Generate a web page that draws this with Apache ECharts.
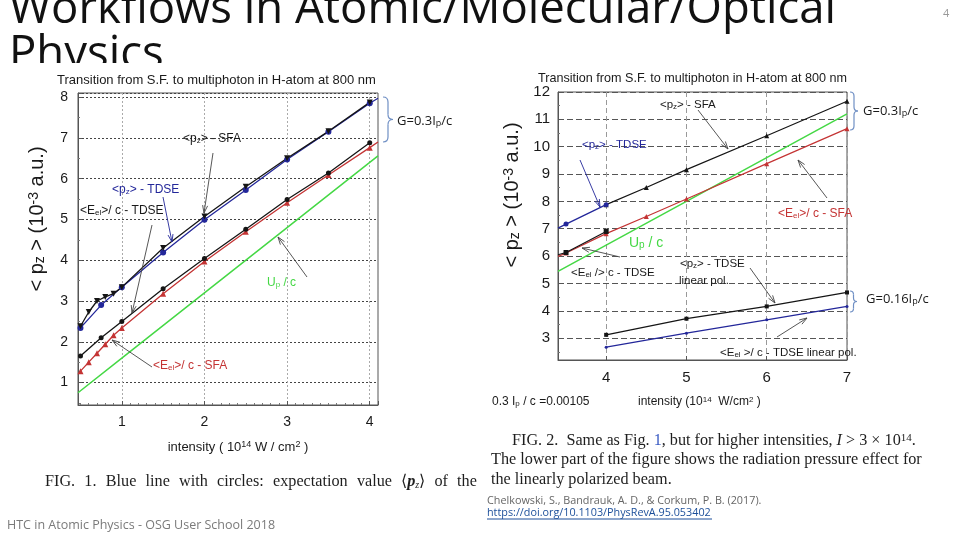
<!DOCTYPE html>
<html><head><meta charset="utf-8">
<script src="https://cdn.jsdelivr.net/npm/echarts@6/dist/echarts.min.js"></script>
<style>html,body{margin:0;padding:0;background:#fff}#c{width:960px;height:540px}</style>
</head><body><div id="c"></div>
<script>
// ---------- data ----------
// Left chart (Fig. 1): intensity in 1e14 W/cm^2, <pz> in 1e-3 a.u.
const L_pzSFA   = [[0.5,2.38],[0.6,2.73],[0.7,3.0],[0.8,3.1],[0.9,3.18],[1,3.34],[1.5,4.3],[2,5.07],[2.5,5.8],[3,6.5],[3.5,7.16],[4,7.87]];
const L_pzTDSE  = [[0.5,2.34],[0.75,2.9],[1,3.34],[1.5,4.19],[2,4.99],[2.5,5.72],[3,6.47],[3.5,7.15],[4,7.85],[4.1,7.97]];
const L_eelTDSE = [[0.5,1.65],[0.75,2.1],[1,2.5],[1.5,3.3],[2,4.04],[2.5,4.76],[3,5.49],[3.5,6.14],[4,6.88]];
const L_eelSFA  = [[0.5,1.28],[0.6,1.5],[0.7,1.72],[0.8,1.94],[0.9,2.16],[1,2.34],[1.5,3.18],[2,3.97],[2.5,4.7],[3,5.41],[3.5,6.09],[4,6.76],[4.1,6.9]];
const L_upc     = [[0.47,0.75],[1,1.6],[2,3.2],[3,4.8],[4,6.4],[4.1,6.56]];
// Right chart (Fig. 2)
const R_pzTDSE  = [[3.4,7.02],[3.5,7.17],[4,7.88]];
const R_pzSFA   = [[4,7.88],[4.5,8.51],[5,9.16],[6,10.4],[7,11.66]];
const R_eelTDSE = [[3.4,6.05],[3.5,6.13],[4,6.9]];
const R_eelSFA  = [[3.4,5.99],[3.5,6.11],[4,6.82],[4.5,7.45],[5,8.09],[6,9.38],[7,10.66]];
const R_upc     = [[3.4,5.44],[4,6.4],[5,8.0],[6,9.6],[7,11.2]];
const R_pzLin   = [[4,3.12],[5,3.71],[6,4.16],[7,4.67]];
const R_eelLin  = [[4,2.67],[5,3.18],[6,3.67],[7,4.16]];
// axis extents
const L_xRange = [0.47, 4.1], L_yRange = [0.45, 8.1];
const R_xRange = [3.4, 7.0],  R_yRange = [2.2, 12];

// ---------- styling ----------
const AR = 'Liberation Sans, Arial, sans-serif';
const SERIF = 'Liberation Serif, Times New Roman, serif';
const SANS2 = 'Open Sans, Noto Sans, sans-serif';
const BLK='#151515', BLU='#23279a', RED='#c43434', GRN='#45d845';
const intLabel = v => Math.abs(v - Math.round(v)) < 1e-6 ? String(Math.round(v)) : '';

function xAx(gi, rng, split, minor, fs, gridType, gridColor, splitN) {
  return { type:'value', gridIndex:gi, min:rng[0], max:rng[1], splitNumber:splitN,
    axisLine:{show:true,onZero:false,lineStyle:{color:'#555'}},
    axisTick:{show:true,inside:true,length:4,lineStyle:{color:'#555'}},
    minorTick:{show:minor,splitNumber:10,length:2,lineStyle:{color:'#777'}},
    axisLabel:{formatter:intLabel,color:'#1a1a1a',fontSize:fs,fontFamily:AR,margin:10,showMinLabel:false},
    splitLine:{show:split,lineStyle:{color:gridColor,type:gridType,width:1}} };
}
function yAx(gi, rng, fs, gridType, gridColor, splitN, margin) {
  return { type:'value', gridIndex:gi, min:rng[0], max:rng[1], splitNumber:splitN,
    axisLine:{show:true,onZero:false,lineStyle:{color:'#555'}},
    axisTick:{show:true,inside:true,length:4,lineStyle:{color:'#555'}},
    minorTick:{show:true,splitNumber:2,length:2,lineStyle:{color:'#777'}},
    axisLabel:{formatter:intLabel,color:'#1a1a1a',fontSize:fs,fontFamily:AR,margin:margin},
    splitLine:{show:true,lineStyle:{color:gridColor,type:gridType,width:1}} };
}
function ser(data, gi, color, symbol, size, rot, lw, edge) {
  return { type:'line', xAxisIndex:gi, yAxisIndex:gi, data:data, color:color,
    symbol:symbol, symbolRotate:rot||0,
    symbolSize: v => (edge && (v[0] < edge[0] || v[0] > edge[1])) ? 0 : size,
    showSymbol: symbol !== 'none', lineStyle:{color:color,width:lw||1.3},
    itemStyle:{color:color}, z:3, silent:true, animation:false };
}

// ---------- annotation helpers ----------
function txt(x, y, text, o) {
  o = o || {};
  const fs = o.fs || 12;
  const sm = Math.round(fs*0.68);
  const col = o.color||'#1a1a1a', ff = o.ff||AR;
  return { type:'text', x:x, y:y, z:o.z==null?10:o.z, rotation:o.rot||0, silent:true,
    style:{ text:text, fill:col, fontSize:fs, fontFamily:ff,
      fontWeight:o.fw||'normal', fontStyle:o.fst||'normal',
      align:o.align||'left', verticalAlign:o.va||'middle',
      rich: Object.assign({
        s:{fontSize:sm, verticalAlign:'bottom', lineHeight:sm, fill:col, fontFamily:ff},
        u:{fontSize:sm, verticalAlign:'top', lineHeight:sm, fill:col, fontFamily:ff}
      }, o.rich||{}) } };
}
function arrow(x1,y1,x2,y2,color) {
  const a = Math.atan2(y2-y1, x2-x1), L = 8, w = 0.32;
  return [
    {type:'line', z:10, silent:true, shape:{x1:x1,y1:y1,x2:x2,y2:y2}, style:{stroke:color,lineWidth:0.9}},
    {type:'polyline', z:10, silent:true, shape:{points:[[x2-L*Math.cos(a-w), y2-L*Math.sin(a-w)],[x2,y2],[x2-L*Math.cos(a+w), y2-L*Math.sin(a+w)]]},
      style:{stroke:color,fill:null,lineWidth:0.9}}
  ];
}
function brace(x, y1, y2, d) {
  const m = (y1+y2)/2, st = {stroke:'#6f8fc4', fill:null, lineWidth:1.2};
  const q = (ax,ay,cx,cy,bx,by) => ({type:'bezierCurve', z:10, silent:true, shape:{x1:ax,y1:ay,cpx1:cx,cpy1:cy,x2:bx,y2:by}, style:st});
  const l = (ax,ay,bx,by) => ({type:'line', z:10, silent:true, shape:{x1:ax,y1:ay,x2:bx,y2:by}, style:st});
  return [
    q(x,y1, x+d,y1, x+d,y1+d), l(x+d,y1+d, x+d,m-d), q(x+d,m-d, x+d,m, x+2*d,m),
    q(x+2*d,m, x+d,m, x+d,m+d), l(x+d,m+d, x+d,y2-d), q(x+d,y2-d, x+d,y2, x,y2)
  ];
}
// justified caption line (FIG. 1): fixed-width gaps computed from measured word widths
const CAP_FS = 16.2;
const mctx = document.createElement('canvas').getContext('2d');
function measure(s, style) { mctx.font = (style||'') + ' ' + CAP_FS + 'px "Liberation Serif"'; return mctx.measureText(s).width; }
const cap1Words = ['FIG.', '1.', 'Blue', 'line', 'with', 'circles:', 'expectation', 'value', '\u27e8{i|p}{sz|z}\u27e9', 'of', 'the'];
const cap1Plain = 'FIG.1.Bluelinewithcircles:expectationvalue\u27e8\u27e9ofthe';
const cap1W = measure(cap1Plain) + measure('p', 'italic bold') + 5;
const cap1Gap = (433 - cap1W) / (cap1Words.length - 1);
const cap1Text = cap1Words.join('{g| }');

const graphics = [
  // slide title (partly hidden by the left figure, as on the slide)
  txt(9, 10, 'Workflows in Atomic/Molecular/Optical', {fs:45.5, ff:SANS2, color:'#111', z:-3}),
  txt(9, 55, 'Physics', {fs:45.5, ff:SANS2, color:'#111', z:-3}),
  {type:'rect', z:-2, silent:true, shape:{x:0,y:63,width:472,height:400}, style:{fill:'#fff'}},
  txt(943, 14, '4', {fs:11, ff:SANS2, color:'#999'}),

  // left figure texts
  txt(57, 80, 'Transition from S.F. to multiphoton in H-atom at 800 nm', {fs:13}),
  txt(37, 219, '< p{s|z} > (10{u|-3} a.u.)', {fs:20, rot:Math.PI/2, align:'center'}),
  txt(238, 447, 'intensity ( 10{u|14} W / cm{u|2} )', {fs:13, align:'center'}),
  txt(183, 139, '<p{s|z}> - SFA', {fs:12}),
  txt(112, 190, '<p{s|z}> - TDSE', {fs:12, color:BLU}),
  txt(80, 211, '<E{s|el}>/ c - TDSE', {fs:12}),
  txt(267, 283, 'U{s|p} / c', {fs:12, color:GRN}),
  txt(153, 366, '<E{s|el}>/ c - SFA', {fs:12, color:RED}),
  ...brace(383, 97, 142, 5),
  txt(397, 121, 'G=0.3I{s|p}/c', {fs:13, ff:SANS2}),
  ...arrow(213,153,204,213,'#444'),
  ...arrow(163,197,172,242,BLU),
  ...arrow(152,225,132,313,'#444'),
  ...arrow(307,277,278,237,'#444'),
  ...arrow(152,367,112,340,'#444'),

  // right figure texts
  txt(538, 79, 'Transition from S.F. to multiphoton in H-atom at 800 nm', {fs:12.6}),
  txt(512, 195, '< p{s|z} > (10{u|-3} a.u.)', {fs:20, rot:Math.PI/2, align:'center'}),
  txt(638, 402, 'intensity (10{u|14}  W/cm{u|2} )', {fs:12}),
  txt(492, 402, '0.3 I{s|p} / c =0.00105', {fs:12}),
  txt(660, 105, '<p{s|z}> - SFA', {fs:11.5}),
  txt(582, 145, '<p{s|z}> - TDSE', {fs:11.5, color:BLU}),
  txt(778, 214, '<E{s|el}>/ c - SFA', {fs:12, color:RED}),
  txt(629, 243, 'U{s|p} / c', {fs:14, color:GRN}),
  txt(571, 273, '<E{s|el} /> c - TDSE', {fs:11.5}),
  txt(680, 264, '<p{s|z}> - TDSE', {fs:11.5}),
  txt(679, 281, 'linear pol.', {fs:11.5}),
  txt(720, 353, '<E{s|el} >/ c - TDSE linear pol.', {fs:11.5}),
  ...brace(850, 92, 130, 4),
  txt(863, 111, 'G=0.3I{s|p}/c', {fs:13, ff:SANS2}),
  ...brace(850, 291, 312, 3.5),
  txt(866, 299, 'G=0.16I{s|p}/c', {fs:13, ff:SANS2}),
  ...arrow(698,110,728,149,'#444'),
  ...arrow(580,160,600,207,BLU),
  ...arrow(827,198,798,160,'#444'),
  ...arrow(620,257,582,248,'#444'),
  ...arrow(750,268,775,303,'#444'),
  ...arrow(777,337,807,318,'#444'),

  // captions
  txt(45, 482, cap1Text,
      {fs:CAP_FS, ff:SERIF, color:'#1e1e1e', rich:{
        g:{width:cap1Gap, fontSize:CAP_FS, fontFamily:SERIF},
        i:{fontStyle:'italic',fontWeight:'bold',fontSize:CAP_FS,fontFamily:SERIF,fill:'#1e1e1e'},
        sz:{fontStyle:'italic',fontSize:10,verticalAlign:'bottom',lineHeight:10,fontFamily:SERIF,fill:'#1e1e1e'}}}),
  txt(512, 441, 'FIG. 2.  Same as Fig. {b|1}, but for higher intensities, {i|I} > 3 \u00d7 10{u|14}.',
      {fs:CAP_FS, ff:SERIF, color:'#1e1e1e', rich:{b:{fill:'#3b5cc4',fontSize:CAP_FS,fontFamily:SERIF}, i:{fontStyle:'italic',fontSize:CAP_FS,fontFamily:SERIF,fill:'#1e1e1e'}}}),
  txt(491, 460, 'The lower part of the figure shows the radiation pressure effect for', {fs:CAP_FS, ff:SERIF, color:'#1e1e1e'}),
  txt(491, 480, 'the linearly polarized beam.', {fs:CAP_FS, ff:SERIF, color:'#1e1e1e'}),
  txt(487, 501, 'Chelkowski, S., Bandrauk, A. D., & Corkum, P. B. (2017).', {fs:10.8, ff:SANS2, color:'#666'}),
  txt(487, 513, 'https://doi.org/10.1103/PhysRevA.95.053402', {fs:10.8, ff:SANS2, color:'#1c4f9a'}),
  {type:'line', z:10, silent:true, shape:{x1:487,y1:519,x2:712,y2:519}, style:{stroke:'#1c4f9a',lineWidth:1}},
  txt(7, 525, 'HTC in Atomic Physics - OSG User School 2018', {fs:12.5, ff:SANS2, color:'#7a7a7a'})
];

const option = {
  animation:false,
  backgroundColor:'#fff',
  grid:[
    {left:78, top:93, width:300, height:312, show:true, borderColor:'#555', borderWidth:1, backgroundColor:'transparent'},
    {left:558, top:92, width:289, height:268, show:true, borderColor:'#555', borderWidth:1, backgroundColor:'transparent'}
  ],
  xAxis:[
    xAx(0, L_xRange, true, true, 14, [2,2], '#aaa', 4),
    xAx(1, R_xRange, true, false, 15, [5,3], '#999', 4)
  ],
  yAxis:[
    yAx(0, L_yRange, 14, [2,2], '#444', 8, 10),
    yAx(1, R_yRange, 15, [6,3], '#555', 10, 8)
  ],
  series:[
    ser(L_upc, 0, GRN, 'none', 0, 0, 1.5),
    ser(L_eelSFA, 0, RED, 'triangle', 6, 0, 1.3, [0.45,4.05]),
    ser(L_eelTDSE, 0, BLK, 'circle', 5, 0, 1.3),
    ser(L_pzTDSE, 0, BLU, 'circle', 6, 0, 1.3, [0.45,4.05]),
    ser(L_pzSFA, 0, BLK, 'triangle', 6, 180, 1.3),
    ser(R_upc, 1, GRN, 'none', 0, 0, 1.5),
    ser(R_eelSFA, 1, RED, 'triangle', 5, 0, 1.2, [3.45,7.1]),
    ser(R_eelTDSE, 1, BLK, 'rect', 5, 0, 1.2, [3.45,7.1]),
    ser(R_pzSFA, 1, BLK, 'triangle', 5, 0, 1.2),
    ser(R_pzTDSE, 1, BLU, 'circle', 5, 0, 1.3, [3.45,7.1]),
    ser(R_pzLin, 1, BLK, 'rect', 4, 0, 1.2),
    ser(R_eelLin, 1, BLU, 'circle', 3, 0, 1.2)
  ],
  graphic:{elements:graphics}
};
const chart = echarts.init(document.getElementById('c'), null, {renderer:'canvas'});
chart.setOption(option);
</script></body></html>
